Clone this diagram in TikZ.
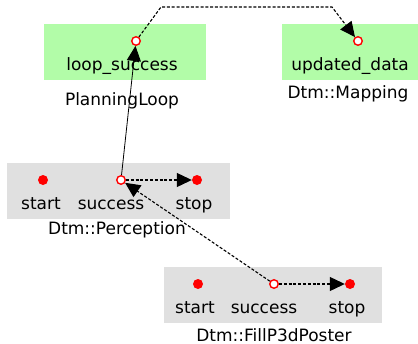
\documentclass[tikz,border=0pt]{standalone}
\usepackage{fontspec}
\setmainfont{DejaVu Sans}
\usetikzlibrary{arrows.meta}
\definecolor{boxgreen}{RGB}{178,252,168}
\definecolor{boxgray}{RGB}{224,224,224}
\tikzset{
  greenbox/.style={rectangle, fill=boxgreen, draw=none, inner sep=0pt},
  graybox/.style={rectangle, fill=boxgray, draw=none, inner sep=0pt},
  lbl/.style={inner sep=0pt, anchor=base, font=\fontsize{17}{20}\selectfont},
  portdot/.style={circle, fill=red, draw=none, inner sep=0pt, minimum size=10pt},
  portring/.style={circle, fill=white, draw=red, line width=1.4pt, inner sep=0pt, minimum size=8.5pt},
  tip/.style={-{Triangle[length=15pt,width=14pt]}},
  flow/.style={tip, line width=1.1pt, dash pattern=on 3pt off 1.8pt},
  link/.style={tip, line width=0.8pt}
}
\begin{document}
\begin{tikzpicture}[x=1pt,y=-1pt]
\path[use as bounding box] (0,0) rectangle (418,343);

% component boxes
\node[greenbox, minimum width=162pt, minimum height=56pt] (plBox) at (125,52) {};
\node[greenbox, minimum width=136pt, minimum height=56pt] (mapBox) at (350,52) {};
\node[graybox, minimum width=223pt, minimum height=56pt] (perBox) at (118.5,191) {};
\node[graybox, minimum width=218pt, minimum height=56pt] (fillBox) at (273,295) {};

% PlanningLoop
\node[portring] (plSuccess) at (136,41) {};
\node[lbl] (plSuccessTxt) at (122,70) {loop\_success};
\node[lbl] (plName) at (122,105) {PlanningLoop};

% Dtm::Mapping
\node[portring] (mapData) at (358,41) {};
\node[lbl] (mapDataTxt) at (350,70) {updated\_data};
\node[lbl] (mapName) at (348,98) {Dtm::Mapping};

% Dtm::Perception
\node[portdot] (perStart) at (43,180) {};
\node[portring] (perSuccess) at (121,180) {};
\node[portdot] (perStop) at (197,180) {};
\node[lbl] (perStartTxt) at (41,209) {start};
\node[lbl] (perSuccessTxt) at (111,209) {success};
\node[lbl] (perStopTxt) at (194,209) {stop};
\node[lbl] (perName) at (117,234) {Dtm::Perception};

% Dtm::FillP3dPoster
\node[portdot] (fillStart) at (198,284) {};
\node[portring] (fillSuccess) at (274,284) {};
\node[portdot] (fillStop) at (350,284) {};
\node[lbl] (fillStartTxt) at (195,313) {start};
\node[lbl] (fillSuccessTxt) at (264,313) {success};
\node[lbl] (fillStopTxt) at (347,313) {stop};
\node[lbl] (fillName) at (274,341.5) {Dtm::FillP3dPoster};

% connections
\coordinate (bendA) at (161,7);
\coordinate (bendB) at (332,7);
\draw[flow] (plSuccess) -- (bendA) -- (bendB) -- (mapData);
\draw[link] (perSuccess) -- (plSuccess);
\draw[flow] (perSuccess) -- (perStop);
\draw[flow] (fillSuccess) -- (perSuccess);
\draw[flow] (fillSuccess) -- (fillStop);
\end{tikzpicture}
\end{document}
